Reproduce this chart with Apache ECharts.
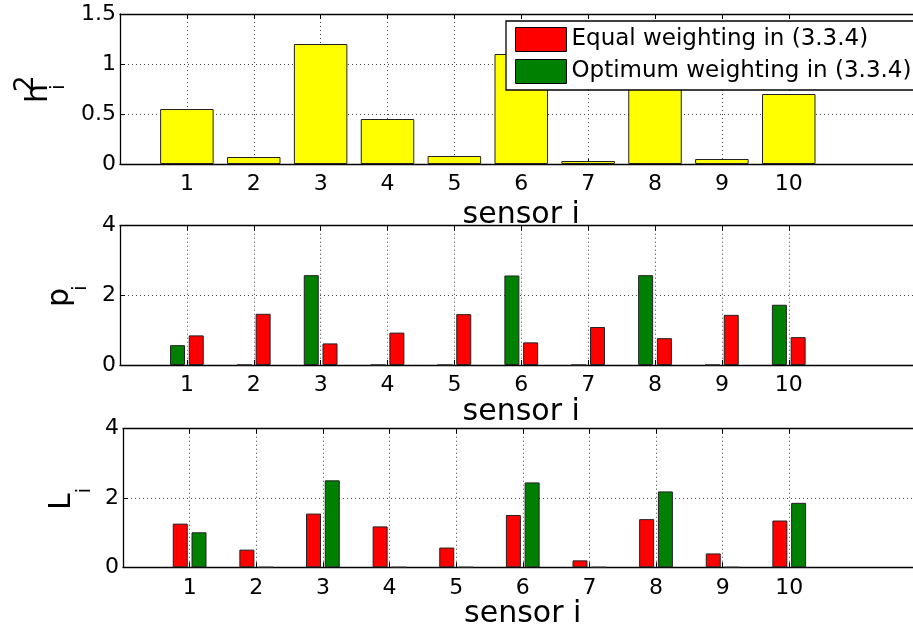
<!DOCTYPE html>
<html>
<head>
<meta charset="utf-8">
<script src="https://cdn.jsdelivr.net/npm/echarts@6/dist/echarts.min.js"></script>
<style>
html,body{margin:0;padding:0;background:#fff;}
#chart{width:913px;height:631px;}
</style>
</head>
<body>
<div id="chart"></div>
<script>
// ---- data ----
const sensors = [1, 2, 3, 4, 5, 6, 7, 8, 9, 10];
const h2Values = [0.55, 0.07, 1.2, 0.45, 0.08, 1.1, 0.03, 0.8, 0.05, 0.7];
const pEqual = [0.85, 1.47, 0.62, 0.93, 1.46, 0.65, 1.09, 0.77, 1.44, 0.80];
const pOptimum = [0.57, 0, 2.58, 0, 0, 2.57, 0, 2.58, 0, 1.73];
const lEqual = [1.26, 0.51, 1.55, 1.18, 0.57, 1.51, 0.20, 1.39, 0.40, 1.35];
const lOptimum = [1.01, 0, 2.51, 0, 0, 2.45, 0, 2.19, 0, 1.86];
const xName = 'sensor i';
const seriesNames = ['Equal weighting in (3.3.4)', 'Optimum weighting in (3.3.4)'];
const yMax = [1.5, 4, 4];
const yStep = [0.5, 2, 2];

// ---- build ----
const FONT = 'DejaVu Sans';
const cats = [''].concat(sensors.map(String), ['', '']);
const pad = a => ['-'].concat(a, ['-', '-']);
const shown = (i, v) => v !== '';

const grids = [
  {left: 120, right: -9.5, top: 14, height: 150, outerBoundsMode: 'none', containLabel: false},
  {left: 120, right: -9.5, top: 225.7, height: 139.3, outerBoundsMode: 'none', containLabel: false},
  {left: 123, right: -9.5, top: 428.7, height: 138.6, outerBoundsMode: 'none', containLabel: false}
];
const nameGaps = [36, 28, 29];

const xAxes = [];
const yAxes = [];
grids.forEach((g, gi) => {
  xAxes.push({
    type: 'category', gridIndex: gi, data: cats, boundaryGap: false,
    axisLine: {lineStyle: {color: '#000', width: 1.3}},
    axisTick: {inside: true, length: 5, interval: shown, lineStyle: {color: '#000'}},
    axisLabel: {interval: shown, color: '#000', fontSize: 22, fontFamily: FONT, margin: 9.5},
    splitLine: {show: true, interval: shown, lineStyle: {color: '#444', type: [1, 3], width: 1}},
    name: xName, nameLocation: 'middle', nameGap: nameGaps[gi],
    nameTextStyle: {color: '#000', fontSize: 30, fontFamily: FONT}
  });
  xAxes.push({
    type: 'category', gridIndex: gi, data: cats, boundaryGap: false, position: 'top',
    axisLine: {lineStyle: {color: '#000', width: 1.3}},
    axisTick: {inside: true, length: 5, interval: shown, lineStyle: {color: '#000'}},
    axisLabel: {show: false}, splitLine: {show: false}
  });
  yAxes.push({
    type: 'value', gridIndex: gi, min: 0, max: yMax[gi], interval: yStep[gi],
    axisLine: {show: true, lineStyle: {color: '#000', width: 1.3}},
    axisTick: {show: true, inside: true, length: 5, lineStyle: {color: '#000'}},
    axisLabel: {color: '#000', fontSize: 22, fontFamily: FONT, margin: 4, padding: [5, 0, 0, 0]},
    splitLine: {show: true, lineStyle: {color: '#444', type: [1, 3], width: 1}}
  });
});

const RED = '#ff0000', GREEN = '#008000', YELLOW = '#ffff00';
const barStyle = c => ({color: c, borderColor: '#222', borderWidth: 1});

const series = [
  {type: 'bar', xAxisIndex: 0, yAxisIndex: 0, data: pad(h2Values), barWidth: 53.5,
   itemStyle: barStyle(YELLOW)},
  {type: 'bar', name: seriesNames[1], xAxisIndex: 2, yAxisIndex: 1, data: pad(pOptimum), barWidth: 15,
   barGap: '25%', itemStyle: barStyle(GREEN)},
  {type: 'bar', name: seriesNames[0], xAxisIndex: 2, yAxisIndex: 1, data: pad(pEqual), barWidth: 15,
   barGap: '25%', itemStyle: barStyle(RED)},
  {type: 'bar', name: seriesNames[0], xAxisIndex: 4, yAxisIndex: 2, data: pad(lEqual), barWidth: 15,
   barGap: '25%', itemStyle: barStyle(RED)},
  {type: 'bar', name: seriesNames[1], xAxisIndex: 4, yAxisIndex: 2, data: pad(lOptimum), barWidth: 15,
   barGap: '25%', itemStyle: barStyle(GREEN)}
];

function txt(str, x, y, fs) {
  return {type: 'text', x: x, y: y,
    style: {text: str, fill: '#000', font: fs + 'px "' + FONT + '"',
      align: 'left', verticalAlign: 'middle', textAlign: 'left', textVerticalAlign: 'middle'}};
}
const M = 30, S = 20, P = 26;
const graphic = [
  {type: 'group', x: 50, y: 103, rotation: Math.PI / 2, children: [
    txt('h', 0, -0.346 * M, M),
    txt('2', 11, -14.7 - 0.346 * P, P),
    txt('i', 13, 15.3 - 0.346 * S, S)
  ]},
  {type: 'group', x: 71, y: 307, rotation: Math.PI / 2, children: [
    txt('p', 0, -0.346 * M, M),
    txt('i', 16, 17 - 0.346 * S, S)
  ]},
  {type: 'group', x: 73, y: 510, rotation: Math.PI / 2, children: [
    txt('L', 0, -0.346 * M, M),
    txt('i', 16.5, 18.5 - 0.346 * S, S)
  ]}
];

const chart = echarts.init(document.getElementById('chart'), null, {renderer: 'canvas'});
chart.setOption({
  animation: false,
  backgroundColor: '#fff',
  grid: grids,
  xAxis: xAxes,
  yAxis: yAxes,
  series: series,
  graphic: graphic,
  legend: {
    data: seriesNames, orient: 'vertical', left: 506, top: 21,
    itemWidth: 51, itemHeight: 24, itemGap: 7, padding: [6, 5, 6, 9],
    backgroundColor: '#fff', borderColor: '#000', borderWidth: 1.3,
    icon: 'rect', itemStyle: {borderColor: '#000', borderWidth: 1},
    textStyle: {color: '#000', fontSize: 23, fontFamily: FONT, padding: [3, 0, 0, 0]},
    z: 10
  }
});
</script>
</body>
</html>
